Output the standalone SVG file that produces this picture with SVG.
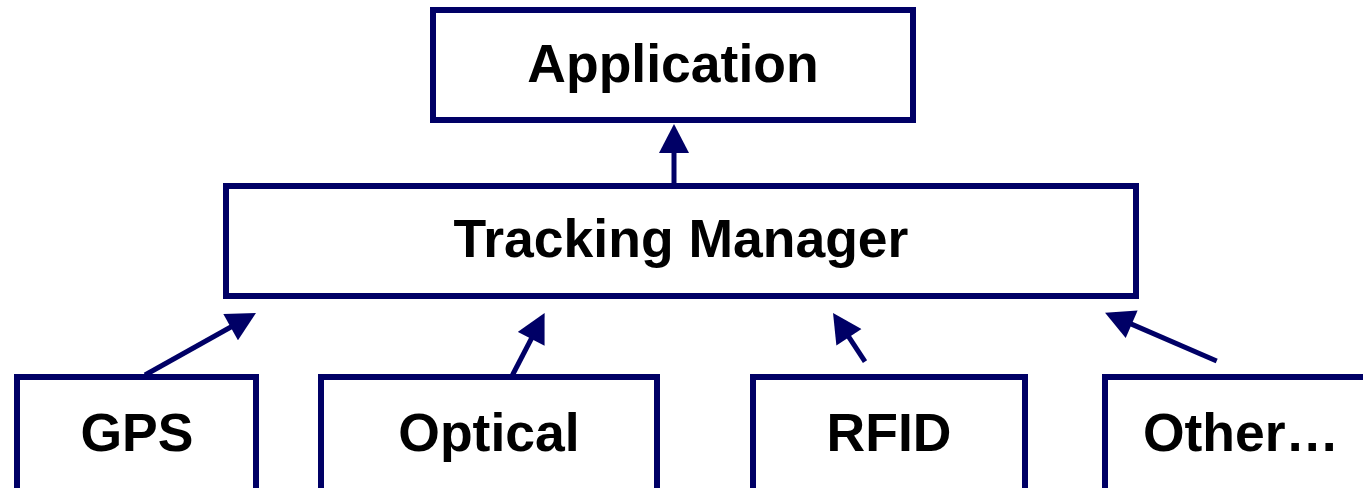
<svg xmlns="http://www.w3.org/2000/svg" width="1363" height="488" viewBox="0 0 1363 488">
  <style>
    .box { fill: #ffffff; stroke: #000066; stroke-width: 6; }
    .lbl { font-family: "Liberation Sans", Arial, sans-serif; font-weight: bold; font-size: 53.5px; fill: #000000; text-anchor: middle; }
    .conn { stroke: #000066; stroke-width: 5; fill: none; marker-end: url(#arrow); }
  </style>
  <defs>
    <marker id="arrow" markerUnits="userSpaceOnUse" markerWidth="30" markerHeight="30" viewBox="0 0 29 30" refX="9" refY="15" orient="auto">
      <path d="M0,0 L29,15 L0,30 z" fill="#000066"/>
    </marker>
  </defs>
  <rect width="1363" height="488" fill="#ffffff"/>
  <g id="connectors">
    <line class="conn" x1="674" y1="183" x2="674" y2="144"/>
    <line class="conn" x1="145" y1="375" x2="238.5" y2="322.8"/>
    <line class="conn" x1="512.5" y1="375" x2="535.4" y2="330.8"/>
    <line class="conn" x1="865" y1="361.7" x2="844" y2="329.7"/>
    <line class="conn" x1="1216.7" y1="361" x2="1123.4" y2="320.6"/>
  </g>
  <g id="application">
    <rect class="box" x="433" y="10" width="480" height="110"/>
    <text class="lbl" x="673" y="82">Application</text>
  </g>
  <g id="tracking-manager">
    <rect class="box" x="226" y="186" width="910" height="110"/>
    <text class="lbl" x="681" y="257">Tracking Manager</text>
  </g>
  <g id="gps">
    <rect class="box" x="17" y="377" width="239" height="130"/>
    <text class="lbl" x="137" y="451">GPS</text>
  </g>
  <g id="optical">
    <rect class="box" x="321" y="377" width="336" height="130"/>
    <text class="lbl" x="489" y="451">Optical</text>
  </g>
  <g id="rfid">
    <rect class="box" x="753" y="377" width="272" height="130"/>
    <text class="lbl" x="889" y="451">RFID</text>
  </g>
  <g id="other">
    <rect class="box" x="1105" y="377" width="280" height="130"/>
    <text class="lbl" x="1241" y="451">Other…</text>
  </g>
</svg>
